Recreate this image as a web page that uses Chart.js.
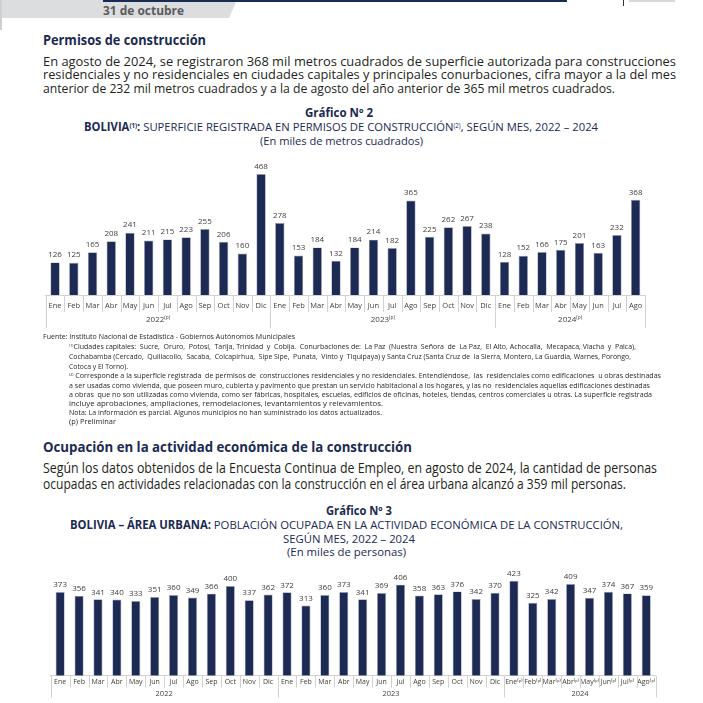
<!DOCTYPE html>
<html>
<head>
<meta charset="utf-8">
<script src="https://cdn.jsdelivr.net/npm/chart.js@4.4.1/dist/chart.umd.min.js"></script>
<style>
  body { margin: 0; width: 703px; height: 703px; background: #fff; position: relative; overflow: hidden; font-family: "Open Sans", sans-serif; }
  .t { position: absolute; white-space: nowrap; transform-origin: 0 50%; line-height: 1; }
  .t sup { font-size: 0.55em; vertical-align: 0.5em; line-height: 0; }
  canvas { position: absolute; }
</style>
</head>
<body>
<div style="position:absolute;left:0;top:0;width:237px;height:18px;background:#dcdddf;clip-path:polygon(0 0,237px 0,229px 18px,0 18px);"></div>
<div style="position:absolute;left:0;top:0;width:1.5px;height:30px;background:#cfcfcf;"></div>
<div style="position:absolute;left:103px;top:0;width:464px;height:2px;background:#1b2a52;"></div>
<div style="position:absolute;left:623px;top:0;width:1px;height:6px;background:#333;"></div>
<div style="position:absolute;left:629px;top:0;width:46px;height:2px;background:#d8d8d8;"></div>

<div style="position:absolute;left:0;top:150px;width:703px;height:185px;"><canvas id="g2" width="703" height="185"></canvas></div>
<div style="position:absolute;left:0;top:560px;width:703px;height:143px;"><canvas id="g3" width="703" height="143"></canvas></div>

<script>
// Gráfico 2: superficie registrada (miles de m2)
const meses = ['Ene','Feb','Mar','Abr','May','Jun','Jul','Ago','Sep','Oct','Nov','Dic'];
const mesesP = ['Ene⁽ᵖ⁾','Feb⁽ᵖ⁾','Mar⁽ᵖ⁾','Abr⁽ᵖ⁾','May⁽ᵖ⁾','Jun⁽ᵖ⁾','Jul⁽ᵖ⁾','Ago⁽ᵖ⁾'];
const anios = ['2022','2023','2024'];
const mesesPorAnio = [12, 12, 8];
const etiquetas2 = [...meses, ...meses, ...meses.slice(0, 8)];
const superficie = [126,125,165,208,241,211,215,223,255,206,160,468,
                    278,153,184,132,184,214,182,365,225,262,267,238,
                    128,152,166,175,201,163,232,368];
// Gráfico 3: población ocupada (miles de personas)
const etiquetas3 = [...meses, ...meses, ...mesesP];
const ocupados = [373,356,341,340,333,351,360,349,366,400,337,362,
                  372,313,360,373,341,369,406,358,363,376,342,370,
                  423,325,342,409,347,374,367,359];

// ---- textos
const navy = '#1b2a52', negro = '#231f20';
const textos = [
  ['31 de octubre', 103, 184, 11, 12, 700, '#5a5b5d'],
  ['Permisos de construcción', 43, 206, 40, 15, 700, navy],
  ['En agosto de 2024, se registraron 368 mil metros cuadrados de superficie autorizada para construcciones', 43, 676, 62, 13.5, 400, negro],
  ['residenciales y no residenciales en ciudades capitales y principales conurbaciones, cifra mayor a la del mes', 43, 676, 75.5, 13.5, 400, negro],
  ['anterior de 232 mil metros cuadrados y a la de agosto del año anterior de 365 mil metros cuadrados.', 43, 615, 89, 13.5, 400, negro],
  ['Gráfico Nº 2', 305, 373, 113, 12, 700, navy],
  ['<b>BOLIVIA<sup>(1)</sup>:</b> SUPERFICIE REGISTRADA EN PERMISOS DE CONSTRUCCIÓN<sup>(2)</sup>, SEGÚN MES, 2022 – 2024', 84, 598, 127, 11.5, 400, navy],
  ['(En miles de metros cuadrados)', 260, 423, 141, 11.5, 400, navy],
  ['Fuente: Instituto Nacional de Estadística - Gobiernos Autónomos Municipales', 43, 295, 337, 7, 400, negro],
  ['<sup>(1)</sup>Ciudades capitales:&nbsp; Sucre,&nbsp; Oruro,&nbsp; Potosí,&nbsp; Tarija, Trinidad&nbsp; y&nbsp; Cobija.&nbsp; Conurbaciones de:&nbsp; La Paz&nbsp; (Nuestra&nbsp; Señora&nbsp; de&nbsp; La Paz,&nbsp; El Alto, Achocalla,&nbsp; Mecapaca, Viacha&nbsp; y&nbsp; Palca),', 69, 636, 347, 7, 400, negro],
  ['Cochabamba (Cercado,&nbsp; Quillacollo,&nbsp; Sacaba,&nbsp; Colcapirhua,&nbsp; Sipe Sipe,&nbsp; Punata,&nbsp; Vinto y&nbsp; Tiquipaya) y Santa Cruz (Santa Cruz de&nbsp; la Sierra, Montero, La Guardia, Warnes, Porongo,', 69, 631, 357, 7, 400, negro],
  ['Cotoca y El Torno).', 69, 128, 366.5, 7, 400, negro],
  ['<sup>(2)</sup> Corresponde a la superficie registrada&nbsp; de permisos de&nbsp; construcciones residenciales y no residenciales. Entendiéndose,&nbsp; las&nbsp; residenciales como edificaciones&nbsp; u obras destinadas', 69, 661, 376, 7, 400, negro],
  ['a ser usadas como vivienda, que poseen muro, cubierta y pavimento que prestan un servicio habitacional a los hogares, y las no&nbsp; residenciales aquellas edificaciones destinadas', 69, 650, 385.5, 7, 400, negro],
  ['a obras&nbsp; que no son utilizadas como vivienda, como ser fábricas, hospitales, escuelas, edificios de oficinas, hoteles, tiendas, centros comerciales u otras. La superficie registrada', 69, 652, 394.5, 7, 400, negro],
  ['incluye aprobaciones, ampliaciones, remodelaciones, levantamientos y relevamientos.', 69, 383, 403.5, 7, 400, negro],
  ['Nota: La información es parcial. Algunos municipios no han suministrado los datos actualizados.', 69, 382, 412.5, 7, 400, negro],
  ['(p) Preliminar', 69, 116, 421.5, 7, 400, negro],
  ['Ocupación en la actividad económica de la construcción', 43, 412, 447, 15, 700, navy],
  ['Según los datos obtenidos de la Encuesta Continua de Empleo, en agosto de 2024, la cantidad de personas', 43, 657, 468, 14, 400, negro],
  ['ocupadas en actividades relacionadas con la construcción en el área urbana alcanzó a 359 mil personas.', 43, 626, 484, 14, 400, negro],
  ['Gráfico Nº 3', 326, 392, 511, 12, 700, navy],
  ['<b>BOLIVIA – ÁREA URBANA:</b> POBLACIÓN OCUPADA EN LA ACTIVIDAD ECONÓMICA DE LA CONSTRUCCIÓN,', 70, 623, 525, 11.5, 400, navy],
  ['SEGÚN MES, 2022 – 2024', 283, 415, 539, 11.5, 400, navy],
  ['(En miles de personas)', 287, 406, 552, 11.5, 400, navy],
];
for (const [html, x0, x1, yc, fs, fw, color] of textos) {
  const d = document.createElement('div');
  d.className = 't';
  d.innerHTML = html;
  d.style.left = x0 + 'px';
  d.style.top = (yc - 0.53 * fs) + 'px';
  d.style.fontSize = fs + 'px';
  d.style.fontWeight = fw;
  d.style.color = color;
  document.body.appendChild(d);
  const w = d.getBoundingClientRect().width;
  d.style.transform = 'scaleX(' + ((x1 - x0) / w) + ')';
}

// ---- plugins
const valores = {
  id: 'valores',
  afterDatasetsDraw(chart, args, opts) {
    const ctx = chart.ctx;
    const meta = chart.getDatasetMeta(0);
    ctx.save();
    ctx.font = opts.size + 'px "Open Sans"';
    ctx.fillStyle = '#404040';
    ctx.textAlign = 'center';
    ctx.textBaseline = 'bottom';
    meta.data.forEach((bar, i) => {
      ctx.fillText(chart.data.datasets[0].data[i], bar.x, bar.y - opts.gap);
    });
    ctx.restore();
  }
};

const ejeAnios = {
  id: 'ejeAnios',
  afterDraw(chart, args, opts) {
    const { ctx, chartArea, scales: { x } } = chart;
    const base = chartArea.bottom;
    const n = chart.data.labels.length;
    const half = (x.getPixelForValue(1) - x.getPixelForValue(0)) / 2;
    const cortes = [0];
    mesesPorAnio.forEach(m => cortes.push(cortes[cortes.length - 1] + m));
    ctx.save();
    ctx.strokeStyle = '#d2d2d2';
    ctx.lineWidth = 1;
    for (let i = 0; i <= n; i++) {
      const px = Math.round((i < n ? x.getPixelForValue(i) - half : x.getPixelForValue(n - 1) + half)) + 0.5;
      const largo = cortes.includes(i) ? opts.largoAnio : opts.largoMes;
      ctx.beginPath();
      ctx.moveTo(px, base);
      ctx.lineTo(px, base + largo);
      ctx.stroke();
    }
    ctx.fillStyle = '#404040';
    ctx.textBaseline = 'middle';
    anios.forEach((a, k) => {
      const cx = (x.getPixelForValue(cortes[k]) + x.getPixelForValue(cortes[k + 1] - 1)) / 2;
      const y = base + opts.yAnio;
      ctx.font = opts.size + 'px "Open Sans"';
      const w1 = ctx.measureText(a).width;
      let w2 = 0;
      if (opts.prelim) {
        ctx.font = (opts.size * 0.6) + 'px "Open Sans"';
        w2 = ctx.measureText('(p)').width;
      }
      const left = cx - (w1 + w2) / 2;
      ctx.textAlign = 'left';
      ctx.font = opts.size + 'px "Open Sans"';
      ctx.fillText(a, left, y);
      if (opts.prelim) {
        ctx.font = (opts.size * 0.6) + 'px "Open Sans"';
        ctx.fillText('(p)', left + w1, y - opts.size * 0.35);
      }
    });
    ctx.restore();
  }
};

function grafico(id, etiquetas, datos, cfg) {
  return new Chart(document.getElementById(id), {
    type: 'bar',
    data: {
      labels: etiquetas,
      datasets: [{
        data: datos,
        backgroundColor: '#1c2a54',
        borderColor: '#9aa2b8',
        borderWidth: 0.7,
        barPercentage: cfg.barPct,
        categoryPercentage: 1
      }]
    },
    options: {
      responsive: false,
      animation: false,
      events: [],
      layout: { padding: cfg.padding },
      plugins: {
        legend: { display: false },
        tooltip: { enabled: false },
        valores: { size: cfg.valSize, gap: cfg.gap },
        ejeAnios: { largoMes: cfg.largoMes, largoAnio: cfg.largoAnio, yAnio: cfg.yAnio, size: cfg.anioSize, prelim: cfg.prelim }
      },
      scales: {
        x: {
          grid: { display: false, drawTicks: false, tickLength: 0 },
          border: { display: true, color: '#d2d2d2', width: 1 },
          ticks: {
            autoSkip: false, maxRotation: 0, minRotation: 0,
            padding: cfg.tickPad,
            color: '#404040',
            font: { family: '"Open Sans"', size: cfg.tickSize }
          },
          afterFit(scale) { scale.height = cfg.ejeAlto; }
        },
        y: { display: false, min: 0, max: cfg.max }
      }
    },
    plugins: [valores, ejeAnios]
  });
}

grafico('g2', etiquetas2, superficie, {
  padding: { left: 45.7, right: 58, top: 15.7, bottom: 0 },
  max: 500, barPct: 0.5, ejeAlto: 40,
  tickPad: 6, tickSize: 7.5, valSize: 8, gap: 3.5,
  largoMes: 17, largoAnio: 33, yAnio: 25, anioSize: 8, prelim: true
});

grafico('g3', etiquetas3, ocupados, {
  padding: { left: 50.7, right: 47.3, top: 14.8, bottom: 0 },
  max: 450, barPct: 0.48, ejeAlto: 27.3,
  tickPad: 2.5, tickSize: 7, valSize: 8, gap: 3,
  largoMes: 12, largoAnio: 22, yAnio: 18, anioSize: 7.5, prelim: false
});
</script>
</body>
</html>
